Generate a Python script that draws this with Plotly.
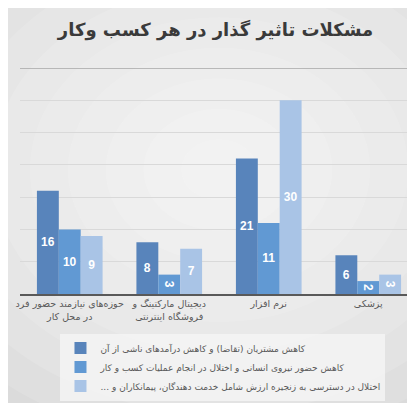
import plotly.graph_objects as go

categories = [
    "حوزه‌های نیازمند حضور فرد<br>در محل کار",
    "دیجیتال مارکتینگ و<br>فروشگاه اینترنتی",
    "نرم افزار",
    "پزشکی",
]
series_names = [
    "کاهش مشتریان (تقاضا) و کاهش درآمدهای ناشی از آن",
    "کاهش حضور نیروی انسانی و اختلال در انجام عملیات کسب و کار",
    "اختلال در دسترسی به زنجیره ارزش شامل خدمت دهندگان، پیمانکاران و ...\u200f",
]
s1 = [16, 8, 21, 6]
s2 = [10, 3, 11, 2]
s3 = [9, 7, 30, 3]
colors = ["#5884bb", "#6199d3", "#a9c4e6"]

fig = go.Figure()
for name, vals, c in zip(series_names, [s1, s2, s3], colors):
    fig.add_trace(go.Bar(
        x=categories, y=vals, name=name, marker_color=c, marker_line_width=0,
        text=[f"<b>{v}</b>" for v in vals], textposition="inside",
        insidetextanchor="middle",
        textfont=dict(color="white", size=12, family="Liberation Sans"),
    ))

# radial-ish background
shapes = []
n = 10
for i in range(n):
    f = 1 - i / n
    rx = 0.95 * f
    ry = 1.35 * f
    cx, cy = 0.5, 0.55
    shapes.append(dict(type="circle", xref="paper", yref="paper", layer="below",
                       x0=cx - rx, x1=cx + rx, y0=cy - ry, y1=cy + ry,
                       fillcolor="white", opacity=0.13, line_width=0))
shapes.append(dict(type="line", xref="paper", yref="y", x0=0, x1=1, y0=35, y1=35,
                   line=dict(color="#a6a6a6", width=1.5)))

fig.update_layout(
    width=415, height=403,
    margin=dict(l=12, r=5, t=60, b=117),
    paper_bgcolor="#d6d6d6",
    plot_bgcolor="rgba(0,0,0,0)",
    shapes=shapes,
    title=dict(text="<b>مشکلات تاثیر گذار در هر کسب وکار</b>", x=0.5, xanchor="center",
               y=0.945, yanchor="middle",
               font=dict(size=18, color="#3a3a3a", family="DejaVu Sans")),
    barmode="group", bargap=0.34, bargroupgap=0,
    uniformtext=dict(minsize=12, mode="show"),
    showlegend=True,
    legend=dict(orientation="v", x=0.51, xanchor="center", y=-0.175, yanchor="top",
                bgcolor="rgba(245,245,245,0.8)", font=dict(size=9, color="#595959",
                family="DejaVu Sans"), tracegroupgap=0),
    font=dict(family="DejaVu Sans"),
)
fig.update_xaxes(showline=True, linecolor="#595959", linewidth=2, tickangle=0,
                 tickfont=dict(size=9.5, color="#595959"), ticks="")
fig.update_yaxes(range=[0, 35], dtick=5, showticklabels=False, gridcolor="#d9d9d9",
                 gridwidth=1, zeroline=False)

fig.write_html("out.html")
